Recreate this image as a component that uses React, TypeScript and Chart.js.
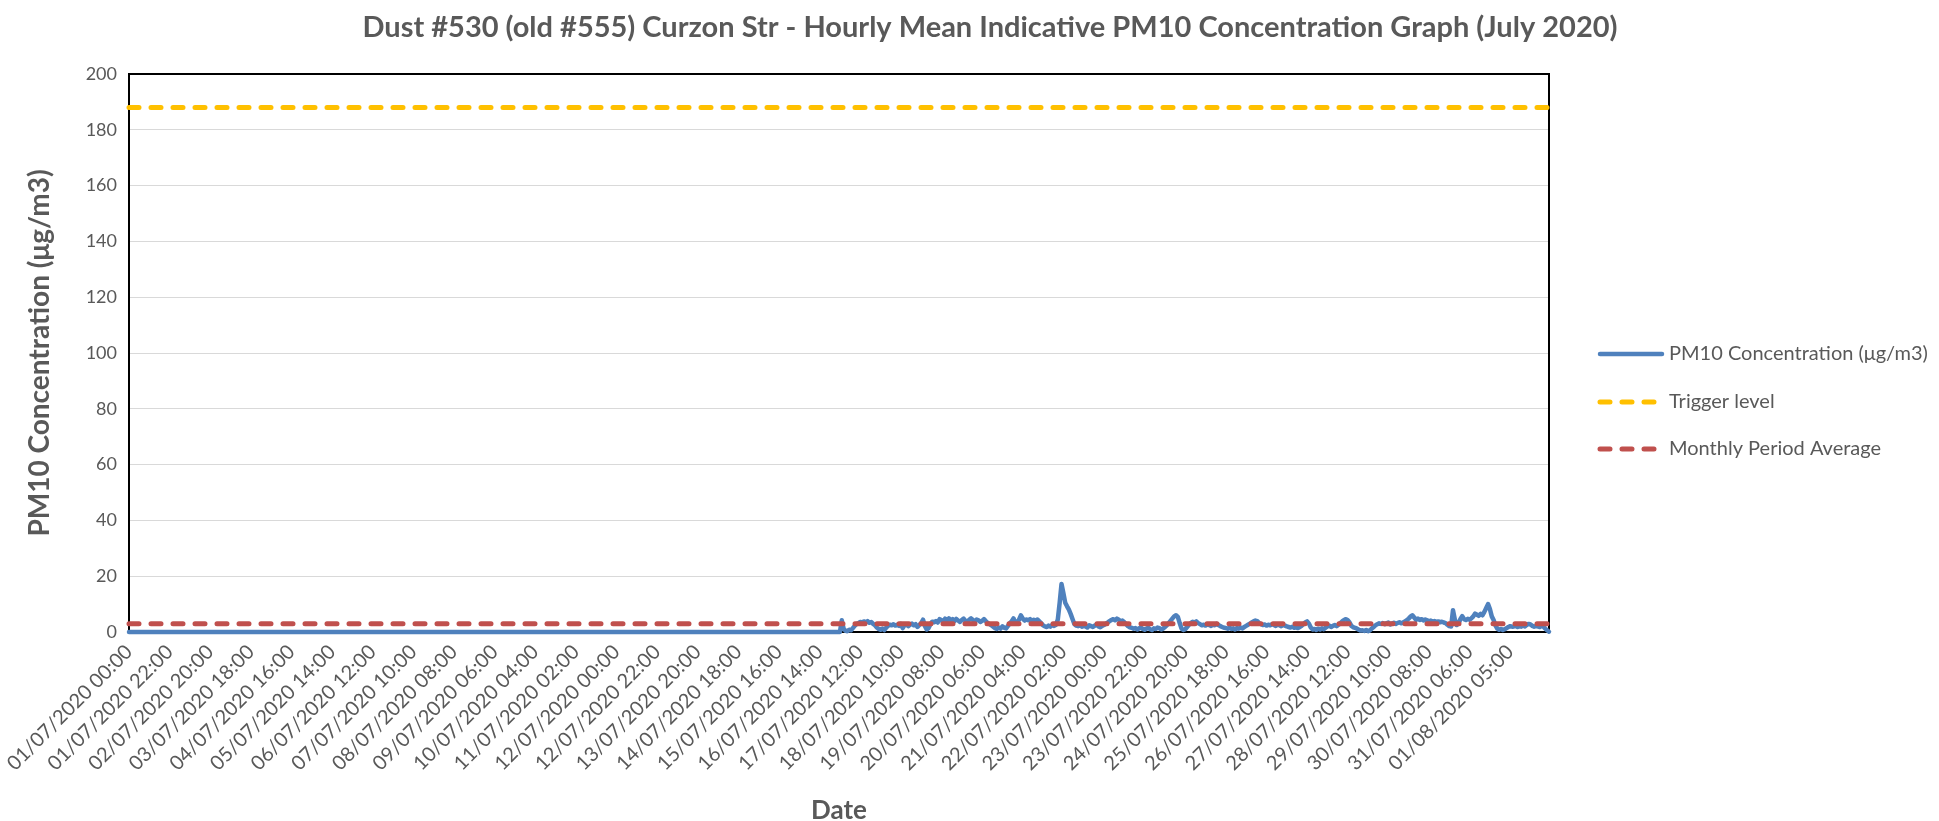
import React, { useEffect, useRef } from "react";
import { Chart, registerables } from "chart.js";

Chart.register(...registerables);

const TITLE =
  "Dust #530 (old #555) Curzon Str - Hourly Mean Indicative PM10 Concentration Graph (July 2020)";
const Y_TITLE = "PM10 Concentration (μg/m3)";
const X_TITLE = "Date";
const SERIES_NAMES = [
  "PM10 Concentration (μg/m3)",
  "Trigger level",
  "Monthly Period Average",
];

const TICK_LABELS = [
  "01/07/2020 00:00", "01/07/2020 22:00", "02/07/2020 20:00", "03/07/2020 18:00",
  "04/07/2020 16:00", "05/07/2020 14:00", "06/07/2020 12:00", "07/07/2020 10:00",
  "08/07/2020 08:00", "09/07/2020 06:00", "10/07/2020 04:00", "11/07/2020 02:00",
  "12/07/2020 00:00", "12/07/2020 22:00", "13/07/2020 20:00", "14/07/2020 18:00",
  "15/07/2020 16:00", "16/07/2020 14:00", "17/07/2020 12:00", "18/07/2020 10:00",
  "19/07/2020 08:00", "20/07/2020 06:00", "21/07/2020 04:00", "22/07/2020 02:00",
  "23/07/2020 00:00", "23/07/2020 22:00", "24/07/2020 20:00", "25/07/2020 18:00",
  "26/07/2020 16:00", "27/07/2020 14:00", "28/07/2020 12:00", "29/07/2020 10:00",
  "30/07/2020 08:00", "31/07/2020 06:00", "01/08/2020 05:00",
];
const TICK_EVERY = 22;
const ZERO_HOURS = 386; // readings at 0 before the monitor started reporting

const PM10_MEASURED = [
  4.2, 1.2, 0.4, 0.3, 0.8, 0.6, 1.4, 2.2,
  2.8, 3.2, 3.6, 3.4, 3.8, 3.5, 3.9, 3.3, 3.6, 2.9, 2.4, 1.6, 1.1,
  0.8, 1.2, 0.7, 1.5, 2.2, 2.6, 2.4, 2.8, 2.3, 2.6,
  2.2, 2.9, 1.4, 2.5, 2.7, 2.1, 2.6, 3.0, 2.4, 2.8, 1.8, 2.5, 3.2,
  4.4, 2.2, 0.9, 1.4, 2.8, 3.7, 3.5, 3.9, 3.4, 4.6, 4.2, 3.6, 4.8, 4.1,
  4.9, 4.2, 4.6, 3.9, 4.7, 4.1, 3.6, 4.3, 4.8, 4.0, 3.7, 4.4, 4.9, 4.3, 3.8, 4.5, 4.2, 3.6, 4.0, 4.6, 3.9, 3.3, 2.8, 2.4,
  1.9, 1.4, 1.1, 1.6, 1.2, 2.0, 1.5, 1.3, 2.2, 3.1, 3.8,
  4.9, 3.2, 3.6, 4.4, 6.0, 4.8, 4.1, 4.5, 4.2, 4.6, 4.0, 4.4, 4.1, 4.5, 3.8, 3.2,
  2.4, 2.0, 1.8, 2.3, 1.9, 2.5, 2.2, 2.6, 4.5, 10.5,
  17.2, 14.0, 10.5, 9.2, 8.0, 6.4, 4.6,
  2.8, 2.3, 2.1, 2.5, 1.9, 2.2, 2.0, 1.6, 2.4, 2.1, 1.8, 2.3, 2.6, 2.0, 1.7, 2.2, 2.5, 2.9, 3.4, 3.9, 4.3,
  4.6, 4.2, 4.8, 4.4, 3.9, 4.1, 3.5, 2.8, 2.1, 1.7, 1.5,
  1.2, 1.4, 0.9, 1.3, 1.6, 1.1, 0.8, 1.2, 1.5, 1.0, 0.7, 1.3, 1.1, 1.6, 1.4, 0.9, 1.2, 1.8, 2.4, 3.2, 4.0, 4.8,
  5.6, 6.0, 5.4, 3.2,
  1.2, 0.7, 1.0, 1.8, 2.6, 3.2, 3.7, 3.4, 3.8,
  3.2, 2.8, 2.4, 2.6, 2.3, 2.7, 2.5, 2.2, 2.6, 2.4, 2.9, 2.5, 2.1, 1.8, 1.5, 1.4,
  1.2, 1.5, 1.1, 1.3, 0.9, 1.4, 1.2, 1.6, 1.3, 1.8, 2.2, 2.6, 3.0, 3.4, 3.8, 4.1,
  3.9, 3.2, 2.8, 2.5, 2.7, 2.3, 2.6, 2.4, 2.8, 2.5, 2.2, 2.7, 2.4, 2.1, 2.5, 2.3, 2.0, 1.8,
  1.6, 1.9, 1.5, 1.7, 1.4, 1.8, 2.2, 2.8, 3.4,
  3.8, 3.0, 1.6, 0.9, 1.1, 0.7, 1.2, 0.9, 1.3, 1.0, 1.5,
  2.0, 2.3, 1.8, 2.2, 2.5, 2.1, 2.6, 3.2, 3.8, 4.3, 4.6,
  4.2, 3.4, 2.2, 1.7, 1.5, 1.2, 0.8, 0.5, 0.6,
  0.4, 0.7, 0.3, 0.6, 1.2, 1.8, 2.4, 2.8, 3.1,
  2.9, 3.2, 2.8, 3.1, 3.4, 2.7, 3.0, 3.3, 2.9, 3.2, 3.5, 3.1, 3.4, 3.8, 4.2, 4.8, 5.5,
  6.0, 5.2, 4.4, 4.8, 4.3, 4.6, 4.1, 4.5, 4.2, 3.9, 4.1,
  3.7, 3.9, 3.6, 3.8, 3.5, 3.7, 3.4, 3.2, 2.6, 2.1, 2.0,
  7.8, 4.5, 2.5, 3.0, 4.6, 5.7, 4.6, 4.3, 4.7, 4.4, 4.9, 5.6, 6.6,
  6.2, 5.8, 6.5, 6.0, 7.2, 8.6, 10.0, 8.2, 5.6, 4.3, 2.4,
  1.2, 0.8, 1.1, 0.7, 1.0, 1.4, 1.8, 2.1, 1.9, 2.0, 2.2, 1.8, 2.1, 1.9, 2.3, 2.0, 2.6, 2.9, 2.7, 2.2, 1.9, 2.1, 2.0, 1.8, 2.2, 1.9, 1.2, 0.6, 0.1,
];

const TRIGGER_LEVEL = 188;
const MONTHLY_AVERAGE = 3;
const Y_MIN = 0;
const Y_MAX = 200;
const Y_STEP = 20;

const COLORS = {
  pm10: "#4F81BD",
  trigger: "#FFC000",
  average: "#C0504D",
  text: "#595959",
  grid: "#D9D9D9",
};

const FONT = "Lato, 'Open Sans', sans-serif";

const W = 1939;
const H = 821;
const PLOT = { left: 129, top: 74, right: 1549, bottom: 632 };

export default function App() {
  const ref = useRef<HTMLCanvasElement | null>(null);

  useEffect(() => {
    const canvas = ref.current;
    if (!canvas) return;

    const pm10 = [...new Array(ZERO_HOURS).fill(0), ...PM10_MEASURED];
    const categories = pm10.map((_, i) =>
      i % TICK_EVERY === 0 && TICK_LABELS[i / TICK_EVERY] ? TICK_LABELS[i / TICK_EVERY] : ""
    );
    const trigger = categories.map(() => TRIGGER_LEVEL);
    const average = categories.map(() => MONTHLY_AVERAGE);

    const framePlugin = {
      id: "frame",
      beforeDatasetsDraw(chart: any) {
        const { ctx, chartArea } = chart;
        ctx.save();
        ctx.strokeStyle = "#000000";
        ctx.lineWidth = 2;
        ctx.strokeRect(
          chartArea.left,
          chartArea.top,
          chartArea.right - chartArea.left,
          chartArea.bottom - chartArea.top
        );
        ctx.restore();
      },
      afterDraw(chart: any) {
        const { ctx } = chart;
        ctx.save();
        // title
        ctx.fillStyle = COLORS.text;
        ctx.font = `bold 29px ${FONT}`;
        ctx.textAlign = "center";
        ctx.textBaseline = "middle";
        ctx.fillText(TITLE, 990, 28);

        // legend
        const rows = [
          { color: COLORS.pm10, dash: [] as number[] },
          { color: COLORS.trigger, dash: [10, 12] },
          { color: COLORS.average, dash: [10, 12] },
        ];
        const x0 = 1600;
        const x1 = 1662;
        const ys = [354, 402, 449];
        rows.forEach((r, i) => {
          ctx.beginPath();
          ctx.setLineDash(r.dash);
          ctx.lineCap = "round";
          ctx.lineWidth = r.dash.length ? 5 : 4.5;
          ctx.strokeStyle = r.color;
          ctx.moveTo(x0, ys[i]);
          ctx.lineTo(x1, ys[i]);
          ctx.stroke();
          ctx.setLineDash([]);
          ctx.fillStyle = COLORS.text;
          ctx.font = `20px ${FONT}`;
          ctx.textAlign = "left";
          ctx.textBaseline = "middle";
          ctx.fillText(SERIES_NAMES[i], 1669, ys[i]);
        });
        ctx.restore();
      },
    };

    const chart = new Chart(canvas, {
      type: "line",
      data: {
        labels: categories,
        datasets: [
          {
            label: SERIES_NAMES[0],
            data: pm10,
            borderColor: COLORS.pm10,
            backgroundColor: COLORS.pm10,
            borderWidth: 4.5,
            pointRadius: 0,
            tension: 0,
            borderJoinStyle: "round",
            borderCapStyle: "round",
            clip: 6,
            order: 3,
          },
          {
            label: SERIES_NAMES[1],
            data: trigger,
            borderColor: COLORS.trigger,
            backgroundColor: COLORS.trigger,
            borderWidth: 5,
            borderDash: [10, 12],
            borderCapStyle: "round",
            pointRadius: 0,
            clip: 6,
            order: 2,
          },
          {
            label: SERIES_NAMES[2],
            data: average,
            borderColor: COLORS.average,
            backgroundColor: COLORS.average,
            borderWidth: 5,
            borderDash: [10, 12],
            borderCapStyle: "round",
            pointRadius: 0,
            clip: 6,
            order: 1,
          },
        ],
      },
      options: {
        responsive: false,
        animation: false,
        devicePixelRatio: 1,
        layout: {
          padding: { left: 0, top: PLOT.top, right: W - PLOT.right, bottom: 0 },
        },
        plugins: {
          legend: { display: false },
          title: { display: false },
          tooltip: { enabled: false },
        },
        scales: {
          x: {
            type: "category",
            offset: false,
            grid: { display: false, drawTicks: false },
            border: { display: false },
            afterFit: (scale: any) => {
              scale.height = H - PLOT.bottom;
            },
            ticks: {
              autoSkip: false,
              minRotation: 45,
              maxRotation: 45,
              padding: 8,
              color: COLORS.text,
              font: { family: FONT, size: 20 },
              callback: (_v: any, i: number) => (categories[i] ? categories[i] : null),
            },
            title: {
              display: true,
              text: X_TITLE,
              color: COLORS.text,
              font: { family: FONT, size: 26, weight: "bold", lineHeight: 1 },
              padding: { top: 0, bottom: -3 },
            },
          },
          y: {
            min: Y_MIN,
            max: Y_MAX,
            afterFit: (scale: any) => {
              scale.width = PLOT.left;
            },
            grid: { color: COLORS.grid, lineWidth: 1, drawTicks: false },
            border: { display: false },
            ticks: {
              stepSize: Y_STEP,
              padding: 12,
              color: COLORS.text,
              font: { family: FONT, size: 18 },
            },
            title: {
              display: true,
              text: Y_TITLE,
              color: COLORS.text,
              font: { family: FONT, size: 28, weight: "bold", lineHeight: 1.2 },
              padding: { top: 23, bottom: 0 },
            },
          },
        },
      },
      plugins: [framePlugin],
    } as any);

    return () => chart.destroy();
  }, []);

  return (
    <div style={{ position: "fixed", left: 0, top: 0, width: W, height: H, background: "#fff" }}>
      <canvas ref={ref} width={W} height={H} style={{ display: "block" }} />
    </div>
  );
}
